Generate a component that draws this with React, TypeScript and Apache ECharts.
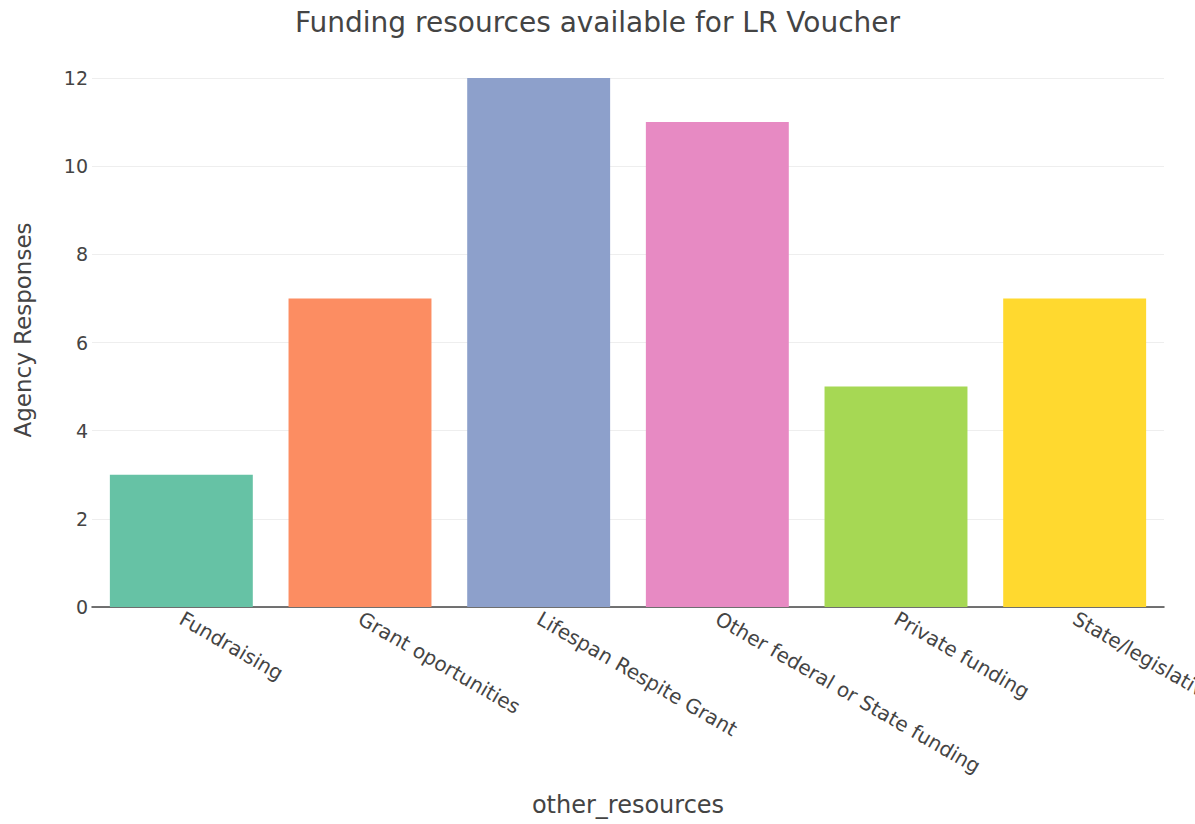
import React, { useEffect, useRef } from "react";
import * as echarts from "echarts";

const categories = [
  "Fundraising",
  "Grant oportunities",
  "Lifespan Respite Grant",
  "Other federal or State funding",
  "Private funding",
  "State/legislative funding",
];
const values = [3, 7, 12, 11, 5, 7];
const colors = ["#66c2a5", "#fc8d62", "#8da0cb", "#e78ac3", "#a6d854", "#ffd92f"];
const yTicks = [0, 2, 4, 6, 8, 10, 12];

const FONT = "DejaVu Sans";

export default function App() {
  const ref = useRef<HTMLDivElement>(null);
  useEffect(() => {
    document.body.style.margin = "0";
    const chart = echarts.init(ref.current!, undefined, { renderer: "svg" });
    chart.setOption({
      animation: false,
      backgroundColor: "#fff",
      textStyle: { fontFamily: FONT },
      title: {
        text: "Funding resources available for LR Voucher",
        left: "center",
        top: 3,
        textStyle: { fontFamily: FONT, fontSize: 28, fontWeight: "normal", color: "#444" },
      },
      grid: {
        left: 92,
        right: 31,
        top: 78,
        bottom: 217,
        containLabel: false,
        outerBoundsMode: "none",
      },
      graphic: [
        {
          type: "text",
          x: 23,
          y: 330,
          rotation: Math.PI / 2,
          style: {
            text: "Agency Responses",
            fontFamily: FONT,
            fontSize: 23,
            fill: "#444",
            align: "center",
            verticalAlign: "middle",
          },
        },
      ],
      xAxis: {
        type: "category",
        data: categories,
        name: "other_resources",
        nameLocation: "middle",
        nameGap: 186,
        nameTextStyle: { fontFamily: FONT, fontSize: 24, color: "#444" },
        axisLine: { show: true, lineStyle: { color: "#444", width: 1.5 } },
        axisTick: { show: false },
        axisLabel: {
          rotate: -30,
          interval: 0,
          margin: 10,
          fontFamily: FONT,
          fontSize: 20,
          color: "#444",
          hideOverlap: false,
        },
      },
      yAxis: {
        type: "value",
        min: yTicks[0],
        max: yTicks[yTicks.length - 1],
        interval: 2,
        axisLine: { show: false },
        axisTick: { show: false },
        axisLabel: { fontFamily: FONT, fontSize: 19, color: "#444", margin: 4 },
        splitLine: { lineStyle: { color: "#eee", width: 1 } },
      },
      series: [
        {
          type: "bar",
          data: values.map((v, i) => ({ value: v, itemStyle: { color: colors[i] } })),
          barCategoryGap: "20%",
        },
      ],
    });
    return () => chart.dispose();
  }, []);
  return <div ref={ref} style={{ width: 1195, height: 824 }} />;
}
